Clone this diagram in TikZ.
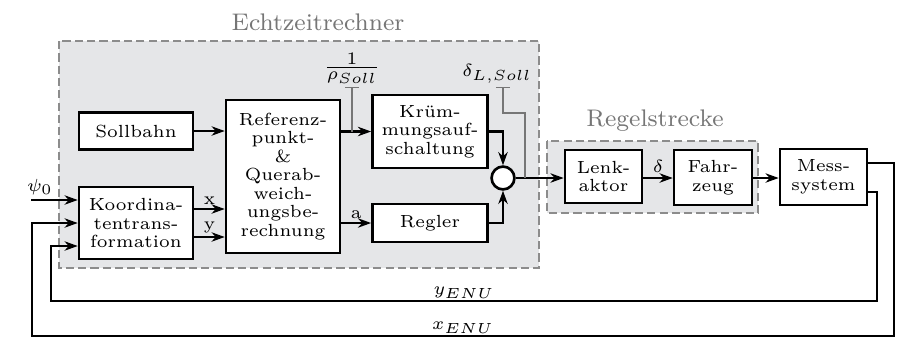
\documentclass[tikz,border=0pt]{standalone}
\usepackage{amsmath, amssymb}
\usepackage{tikz}
\usetikzlibrary{positioning, arrows.meta}
\usepackage{xcolor}
\definecolor{boxgray}{RGB}{229,230,232}
\definecolor{framegray}{RGB}{140,140,140}
\definecolor{refgray}{RGB}{118,118,118}

\begin{document}
\begin{tikzpicture}[x=0.12mm, y=-0.12mm,
    every node/.style={font=\fontsize{6}{6.3}\selectfont},
    block/.style={draw, line width=0.9pt, fill=white, align=center, inner sep=1pt},
    arr/.style={-{Stealth[length=4.5pt, width=3.2pt]}, line width=0.9pt},
    frame/.style={draw=framegray, fill=boxgray, line width=0.5pt, dash pattern=on 2.8pt off 1.4pt},
    framelabel/.style={text=refgray, font=\fontsize{8.2}{10}\selectfont},
    refline/.style={draw=refgray, line width=0.5pt}]
    \useasboundingbox (0,0) rectangle (910,338);

    % Background frames
    \draw[frame] (59,41) rectangle (539,268);
    \draw[frame] (547,141) rectangle (758,213);
    \node[framelabel] (ezr) at (318,22) {Echtzeitrechner};
    \node[framelabel] (rs) at (655,121) {Regelstrecke};

    % Define the blocks
    \node[block, minimum width=38.9pt, minimum height=12.6pt] (soll) at (136,131) {Sollbahn};
    \node[block, minimum width=38.9pt, minimum height=52.2pt] (ref) at (283,176.5) {Referenz-\\punkt-\\\&\\Querab-\\weich-\\ungsbe-\\rechnung};
    \node[block, minimum width=39.3pt, minimum height=24.9pt] (kruem) at (430,131.5) {Krüm-\\mungsauf-\\schaltung};
    \node[block, minimum width=39.3pt, minimum height=13pt] (regler) at (430,223) {Regler};
    \node[block, minimum width=38.9pt, minimum height=24.6pt] (koord) at (136,223) {Koordina-\\tentrans-\\formation};
    \node[draw, circle, line width=0.9pt, fill=white, minimum size=7.8pt, inner sep=0pt] (sum) at (503,178) {};
    \node[block, minimum width=26.3pt, minimum height=18.1pt] (lenk) at (603.5,176.5) {Lenk-\\aktor};
    \node[block, minimum width=26.6pt, minimum height=18.8pt] (fahr) at (713,177.5) {Fahr-\\zeug};
    \node[block, minimum width=29.7pt, minimum height=19.1pt] (mess) at (823.5,177) {Mess-\\system};

    % Signal labels
    \node[above, inner sep=1pt] (rho) at (352,87) {$\frac{\textstyle 1}{\textstyle\rho_{Soll}}$};
    \node[above, inner sep=1pt, xshift=-2pt] (dsoll) at (503,87) {$\delta_{L,Soll}$};
    \node (psi) at (40,187) {$\psi_0$};
    \coordinate (psiin) at (31,200);

    % Draw the connections
    \draw[arr] (soll) -- (ref.west |- soll);
    \draw[arr] (koord.east |- 0,209) -- node[above, inner sep=1pt] {x} (ref.west |- 0,209);
    \draw[arr] (koord.east |- 0,237) -- node[above, inner sep=1pt] {y} (ref.west |- 0,237);
    \draw[arr] (ref.east |- kruem) -- (kruem.west);
    \draw[arr] (ref.east |- regler) -- node[above, inner sep=1pt] {a} (regler.west);
    \draw[arr] (kruem.east) -| (sum.north);
    \draw[arr] (regler.east) -| (sum.south);
    \draw[arr] (sum.east) -- (lenk.west |- sum);
    \draw[arr] (lenk.east |- 0,178) -- node[above, inner sep=1.5pt] {$\delta$} (fahr.west |- 0,178);
    \draw[arr] (fahr.east |- 0,178) -- (mess.west |- 0,178);
    \draw[arr] (psiin) -- (koord.west |- psiin);

    % Feedback from the measurement system
    \begin{scope}[arr]
        \draw (mess.east |- 0,163) -- (894,163) -- (894,336) -- node[above, inner sep=0.5pt] {$x_{ENU}$} (32,336) -- (32,223) -- (koord.west);
        \draw (mess.east |- 0,192) -- (877,192) -- (877,301) -- node[above, inner sep=0.5pt] {$y_{ENU}$} (51,301) -- (51,246) -- (koord.west |- 0,246);
    \end{scope}

    % Reference inputs (thin gray)
    \draw[refline, {Bar[width=4.8pt]}-] (rho.south) -- (rho.south |- kruem);
    \draw[refline, {Bar[width=4.8pt]}-] (dsoll.south -| sum) -- (503,113) -| (sum -| 525,0);
\end{tikzpicture}
\end{document}
